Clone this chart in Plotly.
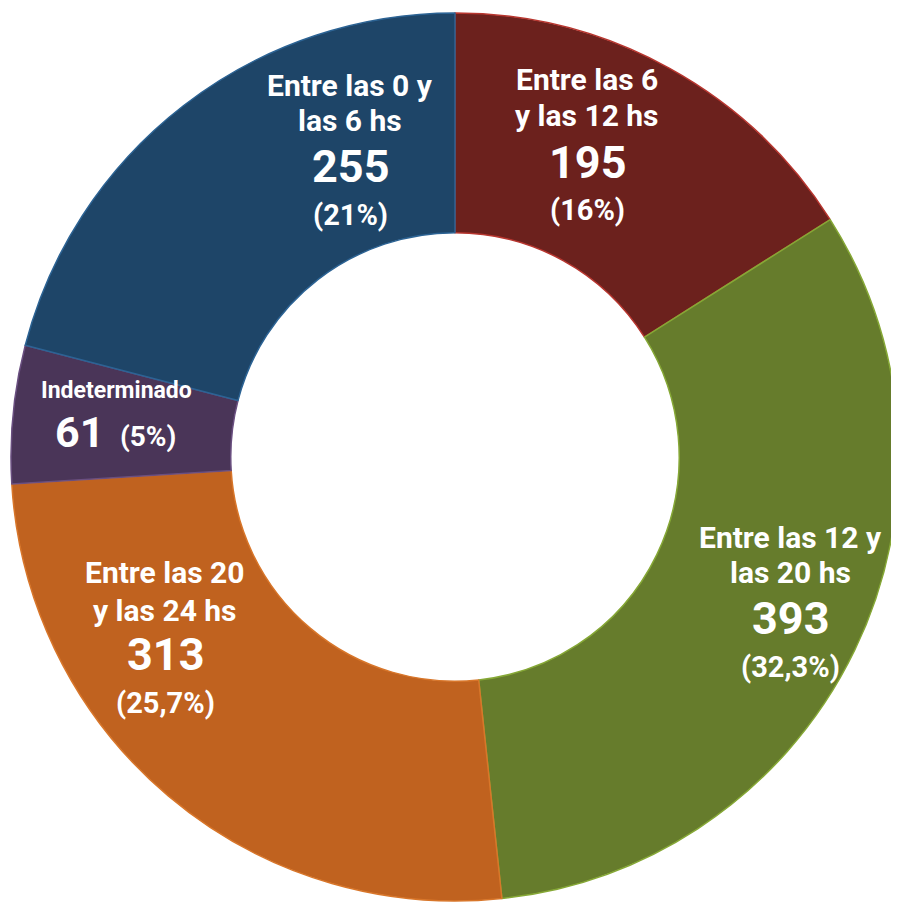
import plotly.graph_objects as go

# ---- data ----
categories = ["Entre las 6 y las 12 hs", "Entre las 12 y las 20 hs",
              "Entre las 20 y las 24 hs", "Indeterminado", "Entre las 0 y las 6 hs"]
values = [195, 393, 313, 61, 255]
pct_labels = ["(16%)", "(32,3%)", "(25,7%)", "(5%)", "(21%)"]
name_lines = [["Entre las 6", "y las 12 hs"],
              ["Entre las 12 y", "las 20 hs"],
              ["Entre las 20", "y las 24 hs"],
              ["Indeterminado"],
              ["Entre las 0 y", "las 6 hs"]]

# ---- style ----
colors = ["#6C211D", "#667C2C", "#C0621F", "#4A3558", "#1E4568"]
edge_colors = ["#B8362F", "#86A836", "#D8762A", "#6A4F80", "#2C6394"]

W, H = 899, 905
OFF = 8  # page body margin offset

fig = go.Figure(go.Pie(
    labels=categories,
    values=values,
    sort=False,
    direction="clockwise",
    rotation=0,
    hole=0.505,
    textinfo="none",
    marker=dict(colors=colors, line=dict(color=edge_colors, width=1.5)),
    domain=dict(x=[0.0033, 0.9911], y=[0.0133, 0.9945]),
    showlegend=False,
))

FONT = "Roboto, Noto Sans, sans-serif"
layout_spec = {
    0: dict(x=587, ys=[80, 116], num_y=162, pct_y=210),
    1: dict(x=790, ys=[537, 572], num_y=618, pct_y=667),
    2: dict(x=165, ys=[572, 610], num_y=654, pct_y=703),
    4: dict(x=350, ys=[86, 121], num_y=167, pct_y=215),
}

annotations = []

def add(text, px, py, size, xanchor="center"):
    annotations.append(dict(
        text=text, x=(px - OFF) / W, y=1 - (py - OFF) / H,
        xref="paper", yref="paper",
        xanchor=xanchor, yanchor="middle", showarrow=False,
        font=dict(family=FONT, size=size, color="white", weight="bold"),
    ))

for i, spec in layout_spec.items():
    for line, yy in zip(name_lines[i], spec["ys"]):
        add(line, spec["x"], yy, 30)
    add(str(values[i]), spec["x"], spec["num_y"], 45)
    add(pct_labels[i], spec["x"], spec["pct_y"], 29)

# Indeterminado slice (compact layout)
add(name_lines[3][0], 116, 390, 23)
add(str(values[3]), 79, 432, 43)
add(pct_labels[3], 148, 436, 28)

fig.update_layout(
    width=W, height=H,
    margin=dict(l=0, r=0, t=0, b=0),
    paper_bgcolor="white",
    plot_bgcolor="white",
    annotations=annotations,
)

fig.write_html("out.html")
